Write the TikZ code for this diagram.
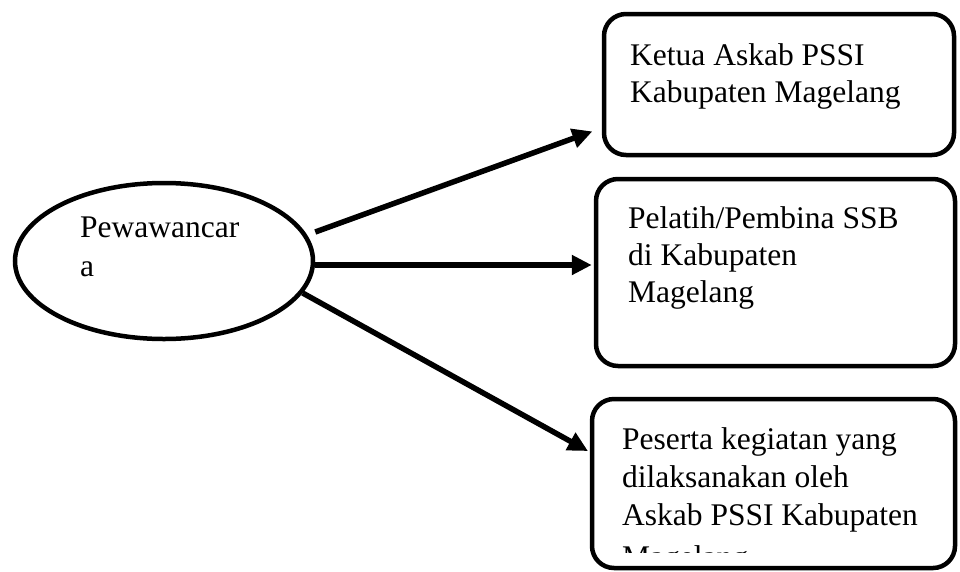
\documentclass[tikz,border=0pt]{standalone}
\usepackage{fontspec}
\setmainfont{Liberation Serif}
\usetikzlibrary{arrows.meta,shapes.geometric}
\tikzset{
  boxnode/.style={draw, line width=4.5pt, rounded corners=22pt, rectangle, inner sep=0pt},
  ellnode/.style={draw, line width=4.5pt, ellipse, inner sep=0pt},
  txt/.style={anchor=base west, inner sep=0pt, font=\fontsize{31.5}{37}\selectfont},
  arr/.style={line width=5.5pt, -{Triangle[length=20pt,width=19pt]}}
}
\begin{document}
\begin{tikzpicture}[x=1pt,y=-1pt]
\useasboundingbox (0,0) rectangle (960,571);
% shapes
\node[ellnode, minimum width=298pt, minimum height=156pt] (e) at (164,261) {};
\node[boxnode, minimum width=350pt, minimum height=141pt] (k1) at (779,84.5) {};
\node[boxnode, minimum width=359pt, minimum height=187pt] (k2) at (775.5,272.5) {};
\node[boxnode, minimum width=363pt, minimum height=169pt] (k3) at (773.5,483.5) {};
% texts
\node[txt] (e1) at (80,237) {Pewawancar};
\node[txt] (e2) at (80,276) {a};
\node[txt] (a1) at (630,65) {Ketua Askab PSSI};
\node[txt] (a2) at (630,102) {Kabupaten Magelang};
\node[txt] (b1) at (628,228) {Pelatih/Pembina SSB};
\node[txt] (b2) at (628,265) {di Kabupaten};
\node[txt] (b3) at (628,302) {Magelang};
\begin{scope}
\clip (592,399) rectangle (955,552);
\node[txt] (c1) at (622,449) {Peserta kegiatan yang};
\node[txt] (c2) at (622,487) {dilaksanakan oleh};
\node[txt] (c3) at (622,525) {Askab PSSI Kabupaten};
\node[txt] (c4) at (622,567) {Magelang};
\end{scope}
% connectors
\draw[arr, shorten >=10pt] ([yshift=29pt]e.east) -- ([yshift=-43.5pt]k1.west);
\draw[arr, shorten >=2pt] ([yshift=-4pt]e.east) -- ([yshift=-4pt]e.east -| k2.west);
\draw[arr, shorten >=2pt] (e.-13) -- ([yshift=31.5pt]k3.west);
\end{tikzpicture}
\end{document}
